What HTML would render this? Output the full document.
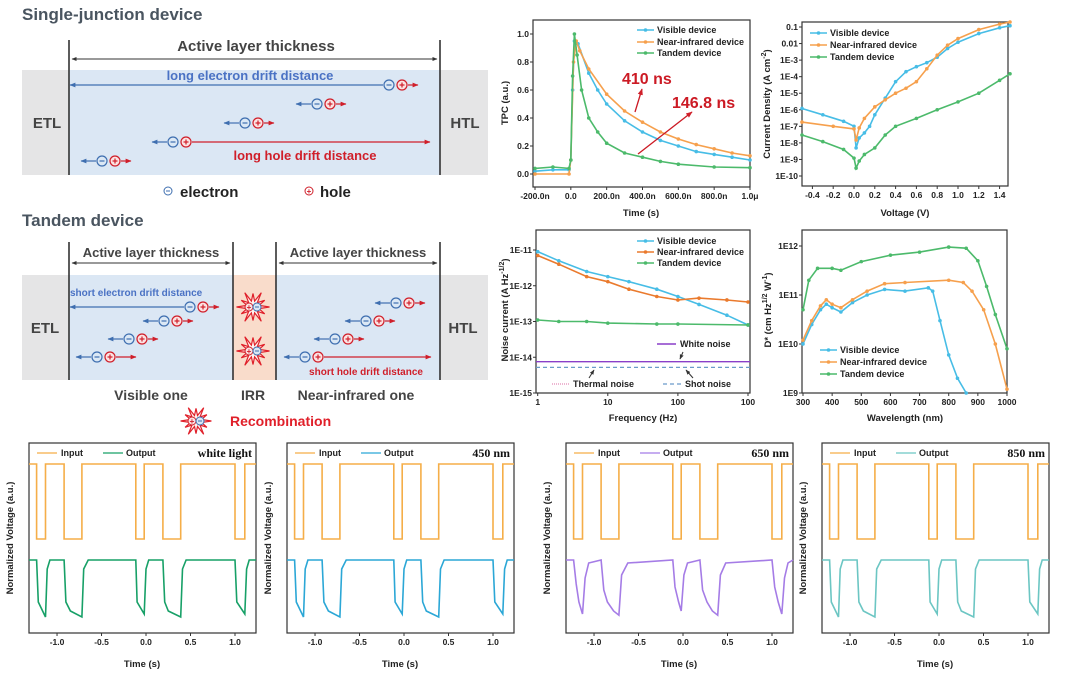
<!DOCTYPE html>
<html><head><meta charset="utf-8">
<style>
html,body{margin:0;padding:0;background:#fff;}
svg{display:block;font-family:"Liberation Sans",sans-serif;}
.tk{font-size:8.5px;font-weight:bold;fill:#222;}
.al{font-size:9.5px;font-weight:bold;fill:#222;}
.lg{font-size:9px;font-weight:bold;fill:#222;}
</style></head>
<body>
<svg id="root" width="1080" height="679" viewBox="0 0 1080 679" xmlns="http://www.w3.org/2000/svg">
<defs>
<marker id="ab" viewBox="0 0 10 10" refX="9" refY="5" markerWidth="5" markerHeight="5" orient="auto-start-reverse"><path d="M0,1 L10,5 L0,9z" fill="#3f6fb0"/></marker>
<marker id="ar" viewBox="0 0 10 10" refX="9" refY="5" markerWidth="5" markerHeight="5" orient="auto-start-reverse"><path d="M0,1 L10,5 L0,9z" fill="#d01f2a"/></marker>
<marker id="ak" viewBox="0 0 10 10" refX="9" refY="5" markerWidth="5" markerHeight="5" orient="auto-start-reverse"><path d="M0,1 L10,5 L0,9z" fill="#333"/></marker>
</defs>
<g id="diagram"></g>
<g id="charts"></g>
</svg>
<script>
// ---------- TPC data ----------
const tpcVisible = [[-200,0.02],[-100,0.03],[-10,0.03],[0,0.1],[10,0.6],[20,0.95],[40,0.93],[100,0.72],[150,0.6],[200,0.5],[300,0.38],[400,0.3],[500,0.24],[600,0.2],[700,0.16],[800,0.14],[900,0.12],[1000,0.1]];
const tpcNIR = [[-200,0],[-10,0],[0,0.1],[15,0.8],[30,0.95],[50,0.88],[100,0.75],[200,0.57],[300,0.45],[400,0.37],[500,0.3],[600,0.25],[700,0.21],[800,0.18],[900,0.15],[1000,0.13]];
const tpcTandem = [[-200,0.04],[-100,0.05],[-10,0.04],[0,0.1],[10,0.7],[20,1.0],[35,0.85],[60,0.6],[100,0.4],[150,0.3],[200,0.22],[300,0.15],[400,0.12],[500,0.09],[600,0.07],[800,0.05],[1000,0.045]];
const tpcXTicks = [-200,0,200,400,600,800,1000];
const tpcXLabels = ["-200.0n","0.0","200.0n","400.0n","600.0n","800.0n","1.0\u03bc"];
const tpcYTicks = [0,0.2,0.4,0.6,0.8,1.0];
const tpcYLabels = ["0.0","0.2","0.4","0.6","0.8","1.0"];
// ---------- J-V data ----------
const jvVisible = [[-0.5,1.2e-6],[-0.3,5e-7],[-0.1,2e-7],[0,1e-7],[0.02,5e-9],[0.05,2e-8],[0.1,4e-8],[0.15,1e-7],[0.2,5e-7],[0.3,5e-6],[0.4,5e-5],[0.5,2e-4],[0.6,4e-4],[0.7,7e-4],[0.8,1.5e-3],[0.9,5e-3],[1.0,1.2e-2],[1.2,4e-2],[1.4,9e-2],[1.5,1.2e-1]];
const jvNIR = [[-0.5,1.8e-7],[-0.2,1e-7],[0,7e-8],[0.02,1.5e-8],[0.05,8e-8],[0.1,3e-7],[0.2,1.5e-6],[0.3,4e-6],[0.4,1e-5],[0.5,2e-5],[0.6,5e-5],[0.7,3e-4],[0.8,2e-3],[0.9,8e-3],[1.0,2e-2],[1.2,7e-2],[1.4,1.5e-1],[1.5,2e-1]];
const jvTandem = [[-0.5,3e-8],[-0.3,1.2e-8],[-0.1,4e-9],[0,1.2e-9],[0.02,3e-10],[0.05,8e-10],[0.1,2e-9],[0.2,5e-9],[0.3,3e-8],[0.4,1e-7],[0.6,3e-7],[0.8,1e-6],[1.0,3e-6],[1.2,1e-5],[1.4,6e-5],[1.5,1.5e-4]];
const jvXTicks = [-0.4,-0.2,0,0.2,0.4,0.6,0.8,1.0,1.2,1.4];
const jvXLabels = ["-0.4","-0.2","0.0","0.2","0.4","0.6","0.8","1.0","1.2","1.4"];
const jvYTicks = [1e-1,1e-2,1e-3,1e-4,1e-5,1e-6,1e-7,1e-8,1e-9,1e-10];
const jvYLabels = ["0.1","0.01","1E-3","1E-4","1E-5","1E-6","1E-7","1E-8","1E-9","1E-10"];
// ---------- Noise data ----------
const noiseVisible = [[1,9e-12],[2,5e-12],[5,2.5e-12],[10,1.8e-12],[20,1.3e-12],[50,8e-13],[100,5e-13],[200,3e-13],[500,1.5e-13],[1000,8e-14]];
const noiseNIR = [[1,7e-12],[2,4e-12],[5,1.8e-12],[10,1.3e-12],[20,8e-13],[50,5e-13],[100,4e-13],[200,4.5e-13],[500,4e-13],[1000,3.5e-13]];
const noiseTandem = [[1,1.1e-13],[2,1e-13],[5,1e-13],[10,9e-14],[50,8.5e-14],[100,8.5e-14],[1000,8e-14]];
const whiteNoise = 7.5e-15;
const shotNoise = 5.2e-15;
const noiseXTicks = [1,10,100,1000];
const noiseXLabels = ["1","10","100","100"];
const noiseYTicks = [1e-11,1e-12,1e-13,1e-14,1e-15];
const noiseYLabels = ["1E-11","1E-12","1E-13","1E-14","1E-15"];
// ---------- D* data ----------
const dVisible = [[300,1e10],[330,2.5e10],[360,5e10],[380,6.5e10],[400,5.5e10],[430,4.5e10],[470,7e10],[520,1e11],[580,1.3e11],[650,1.2e11],[730,1.4e11],[745,1.2e11],[770,3e10],[800,6e9],[830,2e9],[860,1e9]];
const dNIR = [[300,1.2e10],[330,3e10],[360,6e10],[380,8e10],[400,6.5e10],[430,5.5e10],[470,8e10],[520,1.2e11],[580,1.7e11],[650,1.8e11],[800,2e11],[850,1.8e11],[880,1.2e11],[920,5e10],[960,1e10],[1000,1.2e9]];
const dTandem = [[300,5e10],[320,2e11],[350,3.5e11],[400,3.5e11],[430,3.2e11],[500,4.8e11],[600,6.5e11],[700,7.5e11],[800,9.5e11],[860,9e11],[900,5e11],[930,1.5e11],[960,4e10],[1000,8e9]];
const dXTicks = [300,400,500,600,700,800,900,1000];
const dXLabels = ["300","400","500","600","700","800","900","1000"];
const dYTicks = [1e9,1e10,1e11,1e12];
const dYLabels = ["1E9","1E10","1E11","1E12"];
// ---------- Switching data ----------
const inputSignal = [[-1.315,1],[-1.23,1],[-1.23,0],[-1.13,0],[-1.13,1],[-0.92,1],[-0.92,0],[-0.72,0],[-0.72,1],[-0.115,1],[-0.115,0],[-0.02,0],[-0.02,1],[0.19,1],[0.19,0],[0.39,0],[0.39,1],[1.0,1],[1.0,0],[1.11,0],[1.11,1],[1.236,1]];
const outputFast = [[-1.315,1],[-1.23,1],[-1.21,0.3],[-1.13,0.05],[-1.11,0.85],[-1.08,1],[-0.92,1],[-0.90,0.3],[-0.85,0.15],[-0.72,0.05],[-0.70,0.85],[-0.65,1],[-0.115,1],[-0.10,0.3],[-0.02,0.1],[0.0,0.85],[0.03,1],[0.19,1],[0.21,0.3],[0.25,0.15],[0.39,0.05],[0.41,0.85],[0.45,1],[1.0,1],[1.02,0.3],[1.11,0.1],[1.13,0.85],[1.16,1],[1.236,1]];
const outputSlow = [[-1.315,1],[-1.23,1],[-1.20,0.6],[-1.17,0.3],[-1.13,0.1],[-1.10,0.7],[-1.06,0.95],[-0.92,1],[-0.89,0.5],[-0.85,0.3],[-0.78,0.15],[-0.72,0.08],[-0.69,0.75],[-0.62,0.95],[-0.115,1],[-0.09,0.55],[-0.05,0.3],[-0.02,0.15],[0.01,0.75],[0.05,0.95],[0.19,1],[0.22,0.5],[0.27,0.3],[0.33,0.15],[0.39,0.08],[0.42,0.75],[0.48,0.95],[1.0,1],[1.03,0.55],[1.07,0.3],[1.11,0.1],[1.14,0.7],[1.18,0.95],[1.236,1]];
const timeTicks = [-1.0,-0.5,0,0.5,1.0];
const timeLabels = ["-1.0","-0.5","0.0","0.5","1.0"];
const panelLabels = ["white light","450 nm","650 nm","850 nm"];
const outputColors = ["#17a067","#2ba7d6","#a57ce6","#6cc6c3"];

const NS="http://www.w3.org/2000/svg";
function mk(tag, attrs, parent, text){const e=document.createElementNS(NS,tag);for(const k in attrs)e.setAttribute(k,attrs[k]);if(text!==undefined)e.textContent=text;(parent||document.getElementById('charts')).appendChild(e);return e;}
function lin(d0,d1,r0,r1){return v=>r0+(v-d0)/(d1-d0)*(r1-r0);}
function lg(d0,d1,r0,r1){return v=>r0+(Math.log10(v)-Math.log10(d0))/(Math.log10(d1)-Math.log10(d0))*(r1-r0);}

const C_VIS="#47bde6", C_NIR="#f6a04d", C_TAN="#4cba6b";

function axesBox(g,b){const r=mk('rect',{x:b.l,y:b.t,width:b.r-b.l,height:b.b-b.t,fill:'none',stroke:'#333','stroke-width':1.2},g);}
function xTicks(g,b,sx,ticks,labels,name){ticks.forEach((t,i)=>{const x=sx(t);mk('line',{x1:x,x2:x,y1:b.b,y2:b.b+3,stroke:'#333'},g);const tx=mk('text',{x:x,y:b.b+12,class:'tk','text-anchor':'middle'},g,labels[i]);});}
function yTicks(g,b,sy,ticks,labels,name){ticks.forEach((t,i)=>{const y=sy(t);mk('line',{x1:b.l-3,x2:b.l,y1:y,y2:y,stroke:'#333'},g);const tx=mk('text',{x:b.l-4,y:y+3,class:'tk','text-anchor':'end'},g,labels[i]);});}
function series(g,data,sx,sy,color,name,markers){const pts=data.map(d=>sx(d[0]).toFixed(1)+','+sy(d[1]).toFixed(1)).join(' ');const p=mk('polyline',{points:pts,fill:'none',stroke:color,'stroke-width':1.6},g);if(markers){data.forEach(d=>{const c=mk('circle',{cx:sx(d[0]),cy:sy(d[1]),r:1.8,fill:color},g);});}}
function legend(g,x,y,color,label,name){mk('line',{x1:x,x2:x+17,y1:y,y2:y,stroke:color,'stroke-width':1.5},g);mk('circle',{cx:x+8.5,cy:y,r:1.8,fill:color},g);const t=mk('text',{x:x+20,y:y+3,class:'lg'},g,label);}
function rotLabel(g,x,y,html,name){const t=mk('text',{x:x,y:y,class:'al','text-anchor':'middle',transform:`rotate(-90 ${x} ${y})`},g);t.innerHTML=html;return t;}
function xLabel(g,x,y,s,name){const t=mk('text',{x:x,y:y,class:'al','text-anchor':'middle'},g,s);}

// ---- TPC ----
(function(){const g=mk('g',{});
const b={l:533,r:750,t:20,b:187};const sx=lin(-200,1000,535,750);const sy=lin(0,1,174,34);
axesBox(g,b);xTicks(g,b,sx,tpcXTicks,tpcXLabels,'tpc');yTicks(g,b,sy,tpcYTicks,tpcYLabels,'tpc');
series(g,tpcVisible,sx,sy,C_VIS,'tpc-visible-line',true);series(g,tpcNIR,sx,sy,C_NIR,'tpc-nir-line',true);series(g,tpcTandem,sx,sy,C_TAN,'tpc-tandem-line',true);
legend(g,637,30,C_VIS,'Visible device','tpc-legend-visible');legend(g,637,42,C_NIR,'Near-infrared device','tpc-legend-nir');legend(g,637,53,C_TAN,'Tandem device','tpc-legend-tandem');
mk('text',{x:622,y:84,fill:'#cc1a24','font-size':16,'font-weight':'bold'},g,'410 ns');
mk('text',{x:672,y:108,fill:'#cc1a24','font-size':16,'font-weight':'bold'},g,'146.8 ns');
mk('line',{x1:635,y1:112,x2:642,y2:89,stroke:'#cc1a24','stroke-width':1.3,'marker-end':'url(#ar)'},g);
mk('line',{x1:638,y1:154,x2:692,y2:112,stroke:'#cc1a24','stroke-width':1.3,'marker-end':'url(#ar)'},g);
rotLabel(g,508,103,'TPC (a.u.)','tpc-y-title');xLabel(g,641,216,'Time (s)','tpc-x-title');})();

// ---- JV ----
(function(){const g=mk('g',{});
const b={l:802,r:1008,t:22,b:186};const sx=lin(-0.5,1.5,802,1010);const sy=lg(1e-10,0.1,176,27);
axesBox(g,b);xTicks(g,b,sx,jvXTicks,jvXLabels,'jv');yTicks(g,b,sy,jvYTicks,jvYLabels,'jv');
series(g,jvVisible,sx,sy,C_VIS,'jv-visible-line',true);series(g,jvNIR,sx,sy,C_NIR,'jv-nir-line',true);series(g,jvTandem,sx,sy,C_TAN,'jv-tandem-line',true);
legend(g,810,33,C_VIS,'Visible device','jv-legend-visible');legend(g,810,45,C_NIR,'Near-infrared device','jv-legend-nir');legend(g,810,57,C_TAN,'Tandem device','jv-legend-tandem');
rotLabel(g,770,104,'Current Density (A cm<tspan dy="-4" font-size="7">-2</tspan><tspan dy="4">)</tspan>','jv-y-title');xLabel(g,905,216,'Voltage (V)','jv-x-title');})();

// ---- Noise ----
(function(){const g=mk('g',{});
const b={l:536,r:750,t:230,b:393};const sx=lg(1,1000,537.7,748);const sy=lg(1e-15,1e-11,393,250);
axesBox(g,b);xTicks(g,b,sx,noiseXTicks,noiseXLabels,'noise');yTicks(g,b,sy,noiseYTicks,noiseYLabels,'noise');
series(g,noiseVisible,sx,sy,C_VIS,'noise-visible-line',true);series(g,noiseNIR,sx,sy,'#ea7a2d','noise-nir-line',true);series(g,noiseTandem,sx,sy,C_TAN,'noise-tandem-line',true);
const wl=mk('line',{x1:b.l,x2:b.r,y1:sy(whiteNoise),y2:sy(whiteNoise),stroke:'#8a3fc8','stroke-width':1.4},g);
const sl=mk('line',{x1:b.l,x2:b.r,y1:sy(shotNoise),y2:sy(shotNoise),stroke:'#6b9bc9','stroke-width':1.2,'stroke-dasharray':'4,3'},g);
legend(g,637,241,C_VIS,'Visible device','noise-legend-visible');legend(g,637,252,'#ea7a2d','Near-infrared device','noise-legend-nir');legend(g,637,263,C_TAN,'Tandem device','noise-legend-tandem');
mk('line',{x1:657,x2:676,y1:344,y2:344,stroke:'#8a3fc8','stroke-width':1.4},g);mk('text',{x:680,y:347,class:'lg'},g,'White noise');
mk('line',{x1:552,x2:570,y1:384,y2:384,stroke:'#e48ab8','stroke-width':1.2,'stroke-dasharray':'1,1'},g);mk('text',{x:573,y:387,class:'lg'},g,'Thermal noise');
mk('line',{x1:663,x2:682,y1:384,y2:384,stroke:'#6b9bc9','stroke-width':1.2,'stroke-dasharray':'4,3'},g);mk('text',{x:685,y:387,class:'lg'},g,'Shot noise');
mk('line',{x1:683,y1:352,x2:680,y2:359,stroke:'#333','marker-end':'url(#ak)'},g);
mk('line',{x1:589,y1:378,x2:594,y2:370,stroke:'#333','marker-end':'url(#ak)'},g);
mk('line',{x1:693,y1:378,x2:686,y2:370,stroke:'#333','marker-end':'url(#ak)'},g);
rotLabel(g,508,310,'Noise current (A Hz<tspan dy="-4" font-size="7">-1/2</tspan><tspan dy="4">)</tspan>','noise-y-title');xLabel(g,643,421,'Frequency (Hz)','noise-x-title');})();

// ---- D* ----
(function(){const g=mk('g',{});
const b={l:802,r:1007,t:230,b:393};const sx=lin(300,1000,803,1007);const sy=lg(1e9,1e12,393,246);
axesBox(g,b);xTicks(g,b,sx,dXTicks,dXLabels,'dstar');yTicks(g,b,sy,dYTicks,dYLabels,'dstar');
series(g,dVisible,sx,sy,C_VIS,'dstar-visible-line',true);series(g,dNIR,sx,sy,C_NIR,'dstar-nir-line',true);series(g,dTandem,sx,sy,C_TAN,'dstar-tandem-line',true);
legend(g,820,350,C_VIS,'Visible device','dstar-legend-visible');legend(g,820,362,C_NIR,'Near-infrared device','dstar-legend-nir');legend(g,820,374,C_TAN,'Tandem device','dstar-legend-tandem');
rotLabel(g,771,310,'D* (cm Hz<tspan dy="-4" font-size="7">1/2</tspan><tspan dy="4"> W</tspan><tspan dy="-4" font-size="7">-1</tspan><tspan dy="4">)</tspan>','dstar-y-title');xLabel(g,905,421,'Wavelength (nm)','dstar-x-title');})();

// ---- switching panels ----
const panelLefts=[29,287,566,822];
panelLefts.forEach((L,i)=>{const g=mk('g',{});
const b={l:L,r:L+227,t:443,b:633};const sx=lin(-1.315,1.236,L,L+227);
const syIn=lin(0,1,539,464);const syOut=lin(0,1,620,560);
axesBox(g,b);xTicks(g,b,sx,timeTicks,timeLabels,'switching');
series(g,inputSignal,sx,syIn,'#f5ae48','input-signal-line',false);
series(g,(i===2?outputSlow:outputFast),sx,syOut,outputColors[i],'output-signal-line',false);
mk('line',{x1:L+8,x2:L+28,y1:453,y2:453,stroke:'#f5ae48','stroke-width':1.3},g);mk('text',{x:L+32,y:456,class:'lg'},g,'Input');
mk('line',{x1:L+74,x2:L+94,y1:453,y2:453,stroke:outputColors[i],'stroke-width':1.3},g);mk('text',{x:L+97,y:456,class:'lg'},g,'Output');
const pl=mk('text',{x:L+223,y:457,'text-anchor':'end','font-family':'Liberation Serif, serif','font-weight':'bold','font-size':12,fill:'#111'},g,panelLabels[i]);
rotLabel(g,L-16,538,'Normalized Voltage (a.u.)','switching-y-title');xLabel(g,L+113,667,'Time (s)','switching-x-title');});

// ---- diagram ----
const D=document.getElementById('diagram');
const BL="#3f6fb0", RD="#d01f2a";
function txt(x,y,s,attrs,name){const a=Object.assign({x:x,y:y,'font-weight':'bold'},attrs);const t=mk('text',a,D,s);return t;}
function pair(x,y,la,ra){
 mk('line',{x1:x-6,x2:x-6-la,y1:y,y2:y,stroke:BL,'stroke-width':1.2,'marker-end':'url(#ab)'},D);
 mk('circle',{cx:x,cy:y,r:5,fill:'#dbe8f5',stroke:BL,'stroke-width':1.2},D);mk('line',{x1:x-2.5,x2:x+2.5,y1:y,y2:y,stroke:BL,'stroke-width':1.2},D);
 const hx=x+13;mk('circle',{cx:hx,cy:y,r:5,fill:'#fbe2e2',stroke:RD,'stroke-width':1.2},D);
 mk('line',{x1:hx-2.5,x2:hx+2.5,y1:y,y2:y,stroke:RD,'stroke-width':1.2},D);mk('line',{x1:hx,x2:hx,y1:y-2.5,y2:y+2.5,stroke:RD,'stroke-width':1.2},D);
 mk('line',{x1:hx+6,x2:hx+6+ra,y1:y,y2:y,stroke:RD,'stroke-width':1.2,'marker-end':'url(#ar)'},D);}
function star(cx,cy,s){let p=[];for(let k=0;k<24;k++){const r=(k%2?0.45:1)*s*(k%4===0?1.1:0.9);const a=k*Math.PI/12;p.push((cx+r*Math.cos(a)).toFixed(1)+','+(cy+r*Math.sin(a)).toFixed(1));}
 const st=mk('polygon',{points:p.join(' '),fill:'#fff4f0',stroke:'#e0202a','stroke-width':1.2},D);
 mk('circle',{cx:cx-4,cy:cy,r:4,fill:'#fbe2e2',stroke:RD},D);mk('text',{x:cx-4,y:cy+3,'font-size':8,'text-anchor':'middle',fill:RD,'font-weight':'bold'},D,'+');
 mk('circle',{cx:cx+4,cy:cy,r:4,fill:'#dbe8f5',stroke:BL},D);mk('line',{x1:cx+2,x2:cx+6,y1:cy,y2:cy,stroke:BL},D);}
// single junction
txt(22,20,'Single-junction device',{'font-size':17,fill:'#4a5560'},'single-junction-title');
mk('rect',{x:22,y:70,width:466,height:105,fill:'#e5e5e6'},D);
mk('rect',{x:69,y:70,width:371,height:105,fill:'#dbe7f4'},D);
mk('line',{x1:69,x2:69,y1:40,y2:175,stroke:'#333','stroke-width':1.6},D);mk('line',{x1:440,x2:440,y1:40,y2:175,stroke:'#333','stroke-width':1.6},D);
txt(256,51,'Active layer thickness',{'font-size':15,fill:'#444','text-anchor':'middle'},'active-layer-label');
mk('line',{x1:72,x2:437,y1:59,y2:59,stroke:'#333','marker-end':'url(#ak)','marker-start':'url(#ak)'},D);
txt(47,128,'ETL',{'font-size':15,fill:'#444','text-anchor':'middle'},'etl-label');txt(465,128,'HTL',{'font-size':15,fill:'#444','text-anchor':'middle'},'htl-label');
txt(250,80,'long electron drift distance',{'font-size':13,fill:'#4a72c4','text-anchor':'middle'},'long-electron-label');
pair(389,85,313,10);pair(317,104,15,10);pair(245,123,15,10);pair(173,142,15,238);pair(102,161,15,10);
txt(305,160,'long hole drift distance',{'font-size':13,fill:RD,'text-anchor':'middle'},'long-hole-label');
mk('circle',{cx:168,cy:191,r:4,fill:'none',stroke:BL},D);mk('line',{x1:166,x2:170,y1:191,y2:191,stroke:BL},D);
txt(180,197,'electron',{'font-size':15,fill:'#222'},'electron-legend');
mk('circle',{cx:309,cy:191,r:4,fill:'none',stroke:RD},D);mk('text',{x:309,y:194,'font-size':8,'text-anchor':'middle',fill:RD,'font-weight':'bold'},D,'+');
txt(320,197,'hole',{'font-size':15,fill:'#222'},'hole-legend');
// tandem
txt(22,226,'Tandem device',{'font-size':17,fill:'#4a5560'},'tandem-title');
mk('rect',{x:22,y:275,width:466,height:105,fill:'#e5e5e6'},D);
mk('rect',{x:69,y:275,width:164,height:105,fill:'#dbe7f4'},D);
mk('rect',{x:233,y:275,width:43,height:105,fill:'#f9dccb'},D);
mk('rect',{x:276,y:275,width:164,height:105,fill:'#dbe7f4'},D);
[69,233,276,440].forEach(x=>mk('line',{x1:x,x2:x,y1:242,y2:380,stroke:'#333','stroke-width':1.6},D));
txt(151,257,'Active layer thickness',{'font-size':13,fill:'#444','text-anchor':'middle'},'visible-active-layer-label');
txt(358,257,'Active layer thickness',{'font-size':13,fill:'#444','text-anchor':'middle'},'nir-active-layer-label');
mk('line',{x1:72,x2:230,y1:263,y2:263,stroke:'#333','marker-end':'url(#ak)','marker-start':'url(#ak)'},D);
mk('line',{x1:279,x2:437,y1:263,y2:263,stroke:'#333','marker-end':'url(#ak)','marker-start':'url(#ak)'},D);
txt(45,333,'ETL',{'font-size':15,fill:'#444','text-anchor':'middle'},'tandem-etl-label');txt(463,333,'HTL',{'font-size':15,fill:'#444','text-anchor':'middle'},'tandem-htl-label');
txt(70,296,'short electron drift distance',{'font-size':10,fill:'#4a72c4'},'short-electron-label');
pair(190,307,114,10);pair(164,321,15,10);pair(129,339,15,10);pair(97,357,15,20);
pair(396,303,15,10);pair(366,321,15,10);pair(335,339,15,10);pair(305,357,15,107);
txt(366,375,'short hole drift distance',{'font-size':10,fill:RD,'text-anchor':'middle'},'short-hole-label');
star(253,307,15);star(253,351,15);
txt(151,400,'Visible one',{'font-size':14,fill:'#444','text-anchor':'middle'},'visible-one-label');
txt(253,400,'IRR',{'font-size':14,fill:'#444','text-anchor':'middle'},'irr-label');
txt(356,400,'Near-infrared one',{'font-size':14,fill:'#444','text-anchor':'middle'},'nir-one-label');
star(196,421,14);
txt(230,426,'Recombination',{'font-size':14,fill:'#e0202a'},'recombination-label');
</script>
</body></html>
